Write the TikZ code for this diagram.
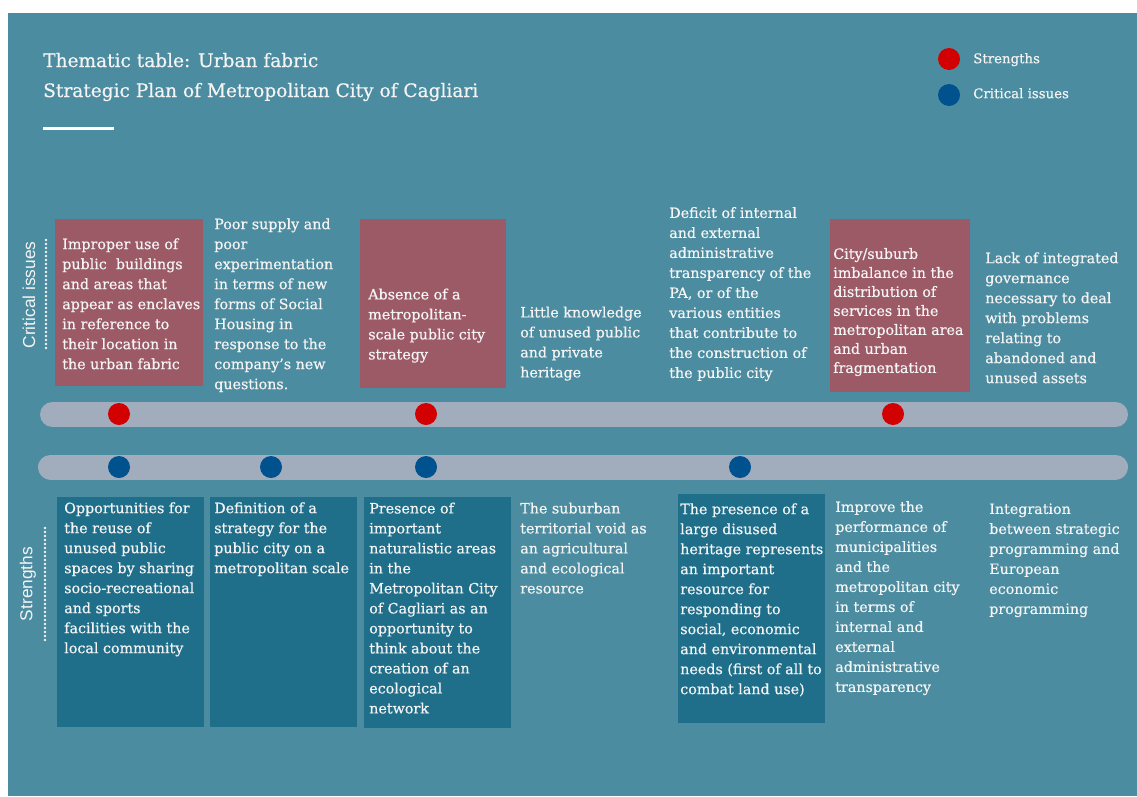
\documentclass[tikz,border=0pt]{standalone}
\usepackage{fontspec}
\setmainfont{DejaVu Serif}[FakeBold=0.5]
\newfontfamily\labelfont{Liberation Sans}
\usetikzlibrary{fit}
\definecolor{bgteal}{RGB}{76,140,160}
\definecolor{boxred}{RGB}{156,90,102}
\definecolor{boxdark}{RGB}{31,111,139}
\definecolor{bargray}{RGB}{161,172,188}
\definecolor{dotred}{RGB}{210,0,0}
\definecolor{dotblue}{RGB}{0,82,143}
\definecolor{txt}{RGB}{244,244,244}
\begin{document}
\begin{tikzpicture}[x=0.75pt,y=-0.75pt,
  redbox/.style={fill=boxred,inner sep=0pt,outer sep=0pt},
  darkbox/.style={fill=boxdark,inner sep=0pt,outer sep=0pt},
  boxtext/.style={text=txt,align=left,anchor=west,inner sep=0pt,
    font=\fontsize{10.7}{15}\selectfont,
    execute at begin node=\strut, execute at end node=\strut},
  legtext/.style={text=txt,anchor=west,inner sep=0pt,
    font=\fontsize{10}{12}\selectfont,
    execute at begin node=\strut},
  titletext/.style={text=txt,anchor=base west,inner sep=0pt,
    font=\fontsize{13.9}{16}\selectfont},
  vlabel/.style={text=txt,inner sep=0pt,rotate=90,
    font=\labelfont\fontsize{13}{15}\selectfont},
  dotline/.style={draw=txt,line width=2.2pt,line cap=round,dash pattern=on 0pt off 3pt},
  bar/.style={draw=bargray,line width=18.75pt,line cap=round},
  rdot/.style={circle,fill=dotred,minimum size=16.5pt,inner sep=0pt},
  bdot/.style={circle,fill=dotblue,minimum size=16.5pt,inner sep=0pt}]
% page and background
\useasboundingbox (0,0) rectangle (1137,796);
\fill[white] (0,0) rectangle (1137,796);
\fill[bgteal] (8,13) rectangle (1137,796);
% title
\node[titletext] (t1) at (43,67) {Thematic table: Urban fabric};
\node[titletext] (t2) at (43,97) {Strategic Plan of Metropolitan City of Cagliari};
\coordinate (ulA) at (43,128.5);
\coordinate (ulB) at (114,128.5);
\draw[white,line width=2.3pt] (ulA) -- (ulB);
% legend
\node[rdot] (lgr) at (949,59) {};
\node[bdot] (lgb) at (949,95) {};
\node[legtext] (lgrt) at (973,60) {Strengths};
\node[legtext] (lgbt) at (973,95) {Critical issues};
% side labels
\node[vlabel] (lci) at (29,295) {Critical issues};
\coordinate (dciA) at (46,240);
\coordinate (dciB) at (46,350);
\draw[dotline] (dciA) -- (dciB);
\node[vlabel] (lst) at (28,584) {Strengths};
\coordinate (dstA) at (45,528);
\coordinate (dstB) at (45,640);
\draw[dotline] (dstA) -- (dstB);
% boxes (critical issues)
\node[redbox,fit={(55,219) (203,386)}] (r1) {};
\node[redbox,fit={(360,219) (506,388)}] (r3) {};
\node[redbox,fit={(830,219) (970,392)}] (r6) {};
% boxes (strengths)
\node[darkbox,fit={(57,497) (204,727)}] (d1) {};
\node[darkbox,fit={(210,497) (357,727)}] (d2) {};
\node[darkbox,fit={(364,497) (511,728)}] (d3) {};
\node[darkbox,fit={(678,494) (825,723)}] (d5) {};
% bars
\coordinate (barTa) at (52.5,414.5);
\coordinate (barTb) at (1115.5,414.5);
\coordinate (barBa) at (50.5,467);
\coordinate (barBb) at (1115.5,467);
\draw[bar] (barTa) -- (barTb);
\draw[bar] (barBa) -- (barBb);
% dots
\node[rdot] (c1) at (119,414) {};
\node[rdot] (c2) at (426,414) {};
\node[rdot] (c3) at (893,414) {};
\node[bdot] (s1) at (119,467) {};
\node[bdot] (s2) at (271,467) {};
\node[bdot] (s3) at (426,467) {};
\node[bdot] (s4) at (740,467) {};
% critical issues texts
\node[boxtext] (ct1) at (62,306.7) {Improper use of\\public\ \ buildings\\and areas that\\appear as enclaves\\in reference to\\their location in\\the urban fabric};
\node[boxtext] (ct2) at (214,306.7) {Poor supply and\\poor\\experimentation\\in terms of new\\forms of Social\\Housing in\\response to the\\company's new\\questions.};
\node[boxtext] (ct3) at (368,327) {Absence of a\\metropolitan-\\scale public city\\strategy};
\node[boxtext] (ct4) at (520,345) {Little knowledge\\of unused public\\and private\\heritage};
\node[boxtext] (ct5) at (669,295.5) {Deficit of internal\\and external\\administrative\\transparency of the\\PA, or of the\\various entities\\that contribute to\\the construction of\\the public city};
\node[boxtext,font=\fontsize{10.7}{14.25}\selectfont] (ct6) at (833,313.3) {City/suburb\\imbalance in the\\distribution of\\services in the\\metropolitan area\\and urban\\fragmentation};
\node[boxtext] (ct7) at (985,320.7) {Lack of integrated\\governance\\necessary to deal\\with problems\\relating to\\abandoned and\\unused assets};
% strengths texts
\node[boxtext] (st1) at (64,580.7) {Opportunities for\\the reuse of\\unused public\\spaces by sharing\\socio-recreational\\and sports\\facilities with the\\local community};
\node[boxtext] (st2) at (214,540.7) {Definition of a\\strategy for the\\public city on a\\metropolitan scale};
\node[boxtext] (st3) at (369,611) {Presence of\\important\\naturalistic areas\\in the\\Metropolitan City\\of Cagliari as an\\opportunity to\\think about the\\creation of an\\ecological\\network};
\node[boxtext] (st4) at (520,551) {The suburban\\territorial void as\\an agricultural\\and ecological\\resource};
\node[boxtext] (st5) at (680,601.7) {The presence of a\\large disused\\heritage represents\\an important\\resource for\\responding to\\social, economic\\and environmental\\needs (first of all to\\combat land use)};
\node[boxtext] (st6) at (835,599.5) {Improve the\\performance of\\municipalities\\and the\\metropolitan city\\in terms of\\internal and\\external\\administrative\\transparency};
\node[boxtext] (st7) at (989,561.7) {Integration\\between strategic\\programming and\\European\\economic\\programming};
\end{tikzpicture}
\end{document}
